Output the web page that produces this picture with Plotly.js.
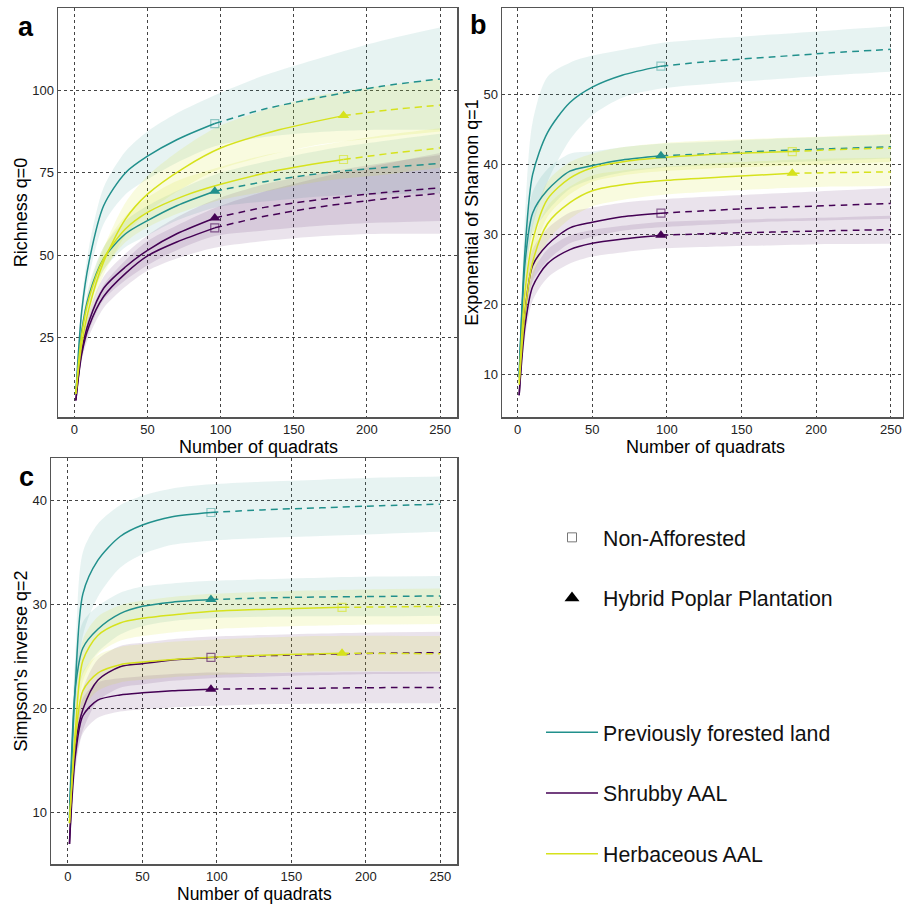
<!DOCTYPE html>
<html>
<head>
<meta charset="utf-8">
<script src="https://cdn.plot.ly/plotly-3.0.1.min.js"></script>
<style>html,body{margin:0;padding:0;background:#fff;}#chart{width:904px;height:905px;}</style>
</head>
<body>
<div id="chart"></div>
<script>
// ---------- categories ----------
const landTypes = ["Previously forested land", "Shrubby AAL", "Herbaceous AAL"];
const treatments = ["Non-Afforested", "Hybrid Poplar Plantation"];
const panelLetters = ["a", "b", "c"];
const yTitles = ["Richness q=0", "Exponential of Shannon q=1", "Simpson's inverse q=2"];
const xTitle = "Number of quadrats";
const xTicks = [0, 50, 100, 150, 200, 250];
const yTicksA = [25, 50, 75, 100];
const yTicksB = [10, 20, 30, 40, 50];
const yTicksC = [10, 20, 30, 40];

// ---------- sample sizes (x) ----------
const xObs96 = [1, 5, 10, 20, 35, 50, 70, 96];
const xExt96 = [96, 130, 170, 210, 250];
const xObs184 = [1, 5, 10, 20, 35, 50, 75, 100, 140, 184];
const xExt184 = [184, 215, 250];
const xBand = [1, 5, 10, 20, 35, 50, 70, 96, 130, 170, 210, 250];

// ---------- panel a : Richness q=0 ----------
const aPflNaObs = [8, 33, 48, 65, 75, 80, 85, 89.9];
const aPflNaExt = [89.9, 94.3, 98, 101.2, 103.4];
const aPflNaLo = [7.5, 30, 43.5, 59.5, 68.5, 73, 78, 83, 85.8, 87.4, 88, 88];
const aPflNaHi = [8.5, 36, 52.5, 70.5, 81.5, 87.5, 93, 98.5, 104.5, 110, 115, 119];
const aPflHpObs = [8, 27, 38, 49, 56.5, 60.5, 65, 69.4];
const aPflHpExt = [69.4, 72.3, 74.9, 76.5, 77.8];
const aPflHpLo = [7.5, 25, 35, 45.5, 52.5, 56, 60.5, 64.4, 66.3, 67.9, 68.5, 68.8];
const aPflHpHi = [8.5, 29, 41, 52.5, 60.5, 65, 69.5, 74.4, 78.3, 81.9, 84.5, 86.8];
const aShNaObs = [6, 20, 28.5, 37.5, 44.5, 49.8, 54, 58.3];
const aShNaExt = [58.3, 61.8, 64.8, 67, 68.8];
const aShNaLo = [5.5, 18, 25.5, 34, 40.5, 45.3, 49, 52.3, 54.3, 55.8, 56.5, 56.5];
const aShNaHi = [6.5, 22, 31.5, 41, 48.5, 54.3, 59, 64.3, 69.3, 73.8, 77.5, 81];
const aShHpObs = [6, 21, 30, 40, 46.5, 51.5, 56.5, 61.3];
const aShHpExt = [61.3, 64.5, 67, 68.9, 70.4];
const aShHpLo = [5.5, 19, 27, 36.5, 42.5, 47, 51.5, 55.8, 57.5, 59, 59.9, 60.4];
const aShHpHi = [6.5, 23, 33, 43.5, 50.5, 56, 61.5, 66.8, 71.5, 75, 77.9, 80.4];
const aHbNaObs = [8, 26, 37, 49, 58, 63, 68, 71.5, 75.8, 79];
const aHbNaExt = [79, 80.8, 82.5];
const aHbNaLo = [7.5, 24, 34, 45.5, 54, 58.5, 62.5, 66.3, 69.3, 72.5, 74.3, 76.5];
const aHbNaHi = [8.5, 28, 40, 52.5, 62, 67.5, 72.5, 76.3, 80.3, 83.5, 86.3, 88.5];
const aHbHpObs = [8, 23, 34, 48, 61, 68.5, 76.5, 82.5, 88, 92.3];
const aHbHpExt = [92.3, 94, 95.5];
const aHbHpLo = [7.5, 21, 31, 44, 56, 63, 69.2, 75.5, 80, 83.7, 85.7, 87.5];
const aHbHpHi = [8.5, 25, 37, 52, 66, 74, 81.2, 88.5, 94, 98.7, 101.3, 103.5];

// ---------- panel b : Exponential of Shannon q=1 ----------
const bPflNaObs = [10, 28, 38.5, 44.5, 48.8, 51, 52.7, 54];
const bPflNaExt = [54, 54.7, 55.3, 55.9, 56.4];
const bPflNaLo = [9.5, 23, 31, 37.5, 43.5, 47, 49.5, 50.8, 51.5, 52.1, 52.7, 53.2];
const bPflNaHi = [10.5, 33, 46, 52.5, 54.5, 55.5, 56.3, 57.3, 57.9, 58.5, 59.1, 59.7];
const bPflHpObs = [9.5, 26, 33, 36.3, 39, 39.8, 40.6, 41.2];
const bPflHpExt = [41.2, 41.5, 41.9, 42.2, 42.5];
const bPflHpLo = [9, 23.5, 30, 33.3, 36.5, 37.8, 38.8, 39.5, 39.8, 40.2, 40.5, 40.8];
const bPflHpHi = [10, 28.5, 36, 39.3, 41.5, 41.8, 42.4, 42.9, 43.2, 43.6, 43.9, 44.2];
const bShNaObs = [7, 19, 25.5, 28.5, 30.9, 31.7, 32.5, 33];
const bShNaExt = [33, 33.4, 33.8, 34.1, 34.4];
const bShNaLo = [6.5, 17, 23.2, 26.2, 28.7, 29.6, 30.5, 31, 31.4, 31.8, 32, 32.2];
const bShNaHi = [7.5, 21, 27.8, 30.8, 33.1, 33.8, 34.5, 35, 35.4, 35.8, 36.2, 36.6];
const bShHpObs = [7, 17, 22.5, 25.8, 27.8, 28.7, 29.3, 29.85];
const bShHpExt = [29.85, 30.1, 30.3, 30.5, 30.65];
const bShHpLo = [6.5, 15.2, 20.5, 23.8, 25.8, 26.8, 27.4, 27.95, 28.2, 28.4, 28.6, 28.65];
const bShHpHi = [7.5, 18.8, 24.5, 27.8, 29.8, 30.6, 31.2, 31.75, 32, 32.2, 32.4, 32.65];
const bHbNaObs = [9, 22, 29, 35, 38, 39.5, 40.5, 41, 41.5, 41.8];
const bHbNaExt = [41.8, 42.1, 42.3];
const bHbNaLo = [8.5, 20, 26.5, 32.5, 35.7, 37.5, 38.4, 39, 39.4, 39.7, 40, 40.3];
const bHbNaHi = [9.5, 24, 31.5, 37.5, 40.3, 41.5, 42.4, 43, 43.4, 43.7, 44, 44.3];
const bHbHpObs = [8.5, 19, 26, 31.5, 34.5, 36.2, 37.2, 37.7, 38.2, 38.7];
const bHbHpExt = [38.7, 38.8, 38.9];
const bHbHpLo = [8, 17, 23.5, 29, 32.2, 34, 34.9, 35.6, 36.1, 36.5, 36.8, 36.9];
const bHbHpHi = [9, 21, 28.5, 34, 36.8, 38.4, 39.1, 39.6, 40.1, 40.5, 40.8, 40.9];

// ---------- panel c : Simpson's inverse q=2 ----------
const cPflNaObs = [9.5, 22.4, 31, 34.2, 36.5, 37.6, 38.4, 38.8];
const cPflNaExt = [38.8, 39.05, 39.25, 39.45, 39.6];
const cPflNaLo = [9, 19.4, 27, 30.7, 33.5, 34.8, 35.7, 36.1, 36.35, 36.55, 36.75, 36.95];
const cPflNaHi = [10, 25.4, 35, 37.7, 39.5, 40.4, 41.1, 41.5, 41.75, 41.95, 42.15, 42.25];
const cPflHpObs = [9.5, 22, 25.8, 27.6, 29.1, 29.8, 30.2, 30.45];
const cPflHpExt = [30.45, 30.6, 30.7, 30.75, 30.8];
const cPflHpLo = [9, 19.5, 23.3, 25.4, 27.1, 27.9, 28.4, 28.65, 28.8, 28.85, 28.85, 28.9];
const cPflHpHi = [10, 24.5, 28.3, 29.8, 31.1, 31.7, 32, 32.25, 32.4, 32.55, 32.65, 32.7];
const cShNaObs = [7, 16.5, 19.9, 22.7, 24, 24.3, 24.65, 24.9];
const cShNaExt = [24.9, 25.05, 25.2, 25.3, 25.35];
const cShNaLo = [6.5, 14.7, 17.9, 20.7, 22, 22.3, 22.65, 22.9, 23.05, 23.2, 23.3, 23.35];
const cShNaHi = [7.5, 18.3, 21.9, 24.7, 26, 26.3, 26.65, 26.9, 27.05, 27.2, 27.3, 27.35];
const cShHpObs = [7, 15.5, 19.3, 20.8, 21.3, 21.5, 21.7, 21.85];
const cShHpExt = [21.85, 21.9, 21.95, 22, 22];
const cShHpLo = [6.5, 14, 17.6, 19.1, 19.7, 19.9, 20.1, 20.25, 20.4, 20.45, 20.5, 20.5];
const cShHpHi = [7.5, 17, 21, 22.5, 22.9, 23.1, 23.3, 23.45, 23.4, 23.45, 23.5, 23.5];
const cHbNaObs = [9, 18, 24.6, 27, 28.2, 28.65, 29.05, 29.35, 29.55, 29.7];
const cHbNaExt = [29.7, 29.75, 29.8];
const cHbNaLo = [8.5, 16, 22.6, 25.2, 26.5, 26.95, 27.3, 27.6, 27.8, 27.95, 28.05, 28.1];
const cHbNaHi = [9.5, 20, 26.6, 28.8, 29.9, 30.35, 30.7, 31, 31.2, 31.35, 31.45, 31.5];
const cHbHpObs = [9, 17, 21.7, 23.4, 24.2, 24.45, 24.75, 24.95, 25.15, 25.3];
const cHbHpExt = [25.3, 25.28, 25.25];
const cHbHpLo = [8.5, 15.2, 19.9, 21.7, 22.5, 22.75, 23, 23.2, 23.4, 23.55, 23.58, 23.55];
const cHbHpHi = [9.5, 18.8, 23.5, 25.1, 25.9, 26.15, 26.4, 26.6, 26.8, 26.95, 26.98, 26.95];

// ---------- styles ----------
const lineColors = {"Previously forested land": "#21908C", "Shrubby AAL": "#440154", "Herbaceous AAL": "#D6E21C"};
const bandColors = {"Previously forested land": "rgba(33,144,140,0.11)", "Shrubby AAL": "rgba(68,1,84,0.11)", "Herbaceous AAL": "rgba(214,226,28,0.14)"};
const squareColors = {"Previously forested land": "rgba(33,144,140,0.45)", "Shrubby AAL": "rgba(68,1,84,0.6)", "Herbaceous AAL": "rgba(214,226,28,0.6)"};

function S(land, treat, xo, yo, xe, ye, lo, hi) { return {land, treat, xo, yo, xe, ye, lo, hi}; }
const L0 = landTypes[0], L1 = landTypes[1], L2 = landTypes[2];
const T0 = treatments[0], T1 = treatments[1];
const panels = [
  {xa: "x", ya: "y", series: [
    S(L0, T0, xObs96, aPflNaObs, xExt96, aPflNaExt, aPflNaLo, aPflNaHi),
    S(L0, T1, xObs96, aPflHpObs, xExt96, aPflHpExt, aPflHpLo, aPflHpHi),
    S(L1, T0, xObs96, aShNaObs, xExt96, aShNaExt, aShNaLo, aShNaHi),
    S(L1, T1, xObs96, aShHpObs, xExt96, aShHpExt, aShHpLo, aShHpHi),
    S(L2, T0, xObs184, aHbNaObs, xExt184, aHbNaExt, aHbNaLo, aHbNaHi),
    S(L2, T1, xObs184, aHbHpObs, xExt184, aHbHpExt, aHbHpLo, aHbHpHi)]},
  {xa: "x2", ya: "y2", series: [
    S(L0, T0, xObs96, bPflNaObs, xExt96, bPflNaExt, bPflNaLo, bPflNaHi),
    S(L0, T1, xObs96, bPflHpObs, xExt96, bPflHpExt, bPflHpLo, bPflHpHi),
    S(L1, T0, xObs96, bShNaObs, xExt96, bShNaExt, bShNaLo, bShNaHi),
    S(L1, T1, xObs96, bShHpObs, xExt96, bShHpExt, bShHpLo, bShHpHi),
    S(L2, T0, xObs184, bHbNaObs, xExt184, bHbNaExt, bHbNaLo, bHbNaHi),
    S(L2, T1, xObs184, bHbHpObs, xExt184, bHbHpExt, bHbHpLo, bHbHpHi)]},
  {xa: "x3", ya: "y3", series: [
    S(L0, T0, xObs96, cPflNaObs, xExt96, cPflNaExt, cPflNaLo, cPflNaHi),
    S(L0, T1, xObs96, cPflHpObs, xExt96, cPflHpExt, cPflHpLo, cPflHpHi),
    S(L1, T0, xObs96, cShNaObs, xExt96, cShNaExt, cShNaLo, cShNaHi),
    S(L1, T1, xObs96, cShHpObs, xExt96, cShHpExt, cShHpLo, cShHpHi),
    S(L2, T0, xObs184, cHbNaObs, xExt184, cHbNaExt, cHbNaLo, cHbNaHi),
    S(L2, T1, xObs184, cHbHpObs, xExt184, cHbHpExt, cHbHpLo, cHbHpHi)]}
];

const traces = [];
panels.forEach(p => {
  // ribbons
  p.series.forEach(s => {
    traces.push({x: xBand, y: s.lo, xaxis: p.xa, yaxis: p.ya, mode: "lines", line: {width: 0, shape: "spline", smoothing: 0.8}, showlegend: false, hoverinfo: "skip"});
    traces.push({x: xBand, y: s.hi, xaxis: p.xa, yaxis: p.ya, mode: "lines", fill: "tonexty", fillcolor: bandColors[s.land], line: {width: 0, shape: "spline", smoothing: 0.8}, showlegend: false, hoverinfo: "skip"});
  });
  // lines
  p.series.forEach(s => {
    traces.push({x: s.xo, y: s.yo, xaxis: p.xa, yaxis: p.ya, mode: "lines", line: {color: lineColors[s.land], width: 1.5, shape: "spline", smoothing: 0.8}, showlegend: false});
    traces.push({x: s.xe, y: s.ye, xaxis: p.xa, yaxis: p.ya, mode: "lines", line: {color: lineColors[s.land], width: 1.5, dash: "7px,5px", shape: "spline", smoothing: 0.8}, showlegend: false});
  });
  // observed-sample markers
  p.series.forEach(s => {
    const isSq = s.treat === T0;
    traces.push({x: [s.xo[s.xo.length - 1]], y: [s.yo[s.yo.length - 1]], xaxis: p.xa, yaxis: p.ya, mode: "markers",
      marker: isSq ? {symbol: "square-open", size: 8, color: squareColors[s.land], line: {width: 1.2}} : {symbol: "triangle-up", size: 10, color: lineColors[s.land]},
      showlegend: false});
  });
});

// legend entries
traces.push({x: [null], y: [null], mode: "markers", name: T0, legend: "legend", legendgroup: "t0", marker: {symbol: "square-open", size: 9, color: "#777", line: {width: 1}}});
traces.push({x: [null], y: [null], mode: "markers", name: T1, legend: "legend", legendgroup: "t1", marker: {symbol: "triangle-up", size: 13, color: "#000"}});
landTypes.forEach((lt, i) => {
  traces.push({x: [null], y: [null], mode: "lines", name: lt, legend: "legend2", legendgroup: "l" + i, line: {color: lineColors[lt], width: 1.5}});
});

const FONT = "Liberation Sans, Arial, Helvetica, sans-serif";
function xAx(domain, range, anchor) {
  return {domain, range, anchor, tickvals: xTicks, ticks: "", showgrid: true, gridcolor: "#444", griddash: "dot", gridwidth: 1,
    zeroline: false, showline: true, mirror: true, linecolor: "#555", linewidth: 1.5,
    tickfont: {family: FONT, size: 13, color: "#222"}};
}
function yAx(domain, range, anchor, ticks, title) {
  return {domain, range, anchor, tickvals: ticks, ticks: "", showgrid: true, gridcolor: "#444", griddash: "dot", gridwidth: 1,
    zeroline: false, showline: true, mirror: true, linecolor: "#555", linewidth: 1.5,
    tickfont: {family: FONT, size: 13, color: "#222"},
    title: {text: title, font: {family: FONT, size: 18, color: "#000"}, standoff: 0}};
}

function letter(txt, px, py) {
  return {text: "<b>" + txt + "</b>", xref: "paper", yref: "paper", x: px / 904, y: 1 - py / 905, xanchor: "center", yanchor: "middle",
    showarrow: false, font: {family: FONT, size: 27, color: "#000"}};
}
function xTitleAnn(px, py, fs) {
  return {text: xTitle, xref: "paper", yref: "paper", x: px / 904, y: 1 - py / 905, xanchor: "center", yanchor: "middle",
    showarrow: false, font: {family: FONT, size: fs, color: "#000"}};
}

const layout = {
  width: 904, height: 905,
  margin: {l: 0, r: 0, t: 0, b: 0},
  paper_bgcolor: "#fff", plot_bgcolor: "#fff",
  font: {family: FONT},
  xaxis: xAx([58 / 904, 457 / 904], [-11.2, 261.6], "y"),
  yaxis: yAx([1 - 417 / 905, 1 - 8 / 905], [1, 124.9], "x", yTicksA, yTitles[0]),
  xaxis2: xAx([502 / 904, 903 / 904], [-10.5, 258.2], "y2"),
  yaxis2: yAx([1 - 417 / 905, 1 - 8 / 905], [3.9, 62.3], "x2", yTicksB, yTitles[1]),
  xaxis3: xAx([51 / 904, 457 / 904], [-11.4, 261.2], "y3"),
  yaxis3: yAx([1 - 864 / 905, 1 - 458 / 905], [5.08, 44.03], "x3", yTicksC, yTitles[2]),
  legend: {x: 541 / 904, y: 1 - 517 / 905, xanchor: "left", yanchor: "top", itemwidth: 52, tracegroupgap: 30,
    font: {family: FONT, size: 21.3, color: "#111"}, bgcolor: "rgba(0,0,0,0)", borderwidth: 0},
  legend2: {x: 541 / 904, y: 1 - 712 / 905, xanchor: "left", yanchor: "top", itemwidth: 52, tracegroupgap: 30,
    font: {family: FONT, size: 21.3, color: "#111"}, bgcolor: "rgba(0,0,0,0)", borderwidth: 0},
  annotations: [
    letter(panelLetters[0], 26, 27),
    letter(panelLetters[1], 478, 25),
    letter(panelLetters[2], 26, 477),
    xTitleAnn(258, 447, 18),
    xTitleAnn(705, 447, 18),
    xTitleAnn(254, 894, 17.5)
  ],
  showlegend: true
};

Plotly.newPlot("chart", traces, layout, {displayModeBar: false, staticPlot: true});
</script>
</body>
</html>
